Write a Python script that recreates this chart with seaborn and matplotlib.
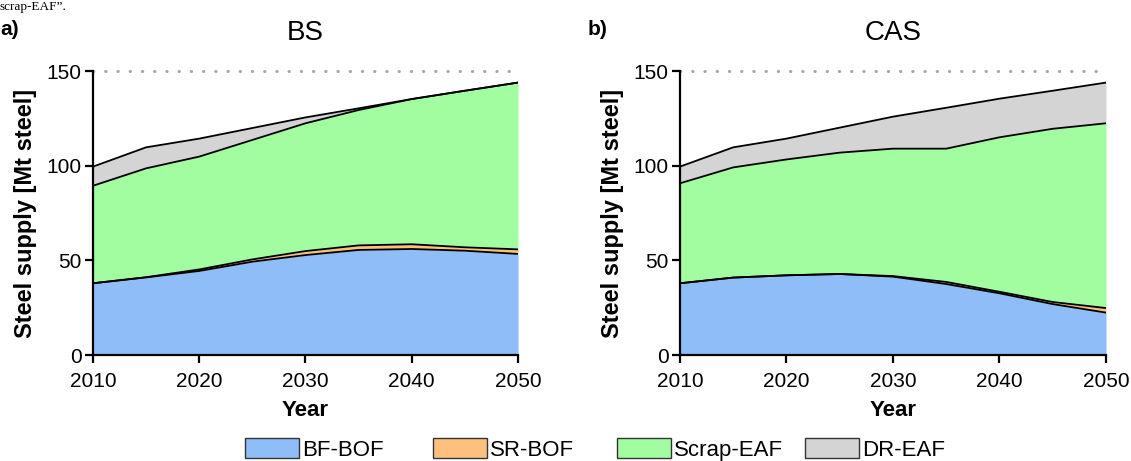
import matplotlib
matplotlib.use("Agg")
import matplotlib.pyplot as plt
from matplotlib.patches import Patch
import numpy as np
import pandas as pd
import seaborn as sns

# ---- data (Mt steel) ----
years = [2010, 2015, 2020, 2025, 2030, 2035, 2040, 2045, 2050]
routes = ["BF-BOF", "SR-BOF", "Scrap-EAF", "DR-EAF"]
route_colors = ["#8fbdf8", "#fec07f", "#a2fda1", "#d4d4d4"]

bs_bf_bof = [37.9, 41.0, 44.4, 49.3, 52.8, 55.5, 56.0, 55.1, 53.4]
bs_sr_bof = [0.0, 0.1, 0.8, 1.2, 2.1, 2.4, 2.5, 1.8, 2.4]
bs_scrap_eaf = [51.5, 57.5, 59.6, 63.1, 67.5, 71.5, 76.7, 82.7, 88.1]
bs_dr_eaf = [10.1, 11.1, 9.5, 6.3, 3.1, 0.9, 0.0, 0.0, 0.0]

cas_bf_bof = [37.9, 40.9, 42.1, 42.8, 41.4, 37.5, 32.6, 26.9, 22.4]
cas_sr_bof = [0.0, 0.0, 0.0, 0.0, 0.3, 1.1, 0.8, 1.1, 2.4]
cas_scrap_eaf = [52.8, 58.2, 61.2, 64.1, 67.3, 70.4, 81.6, 91.5, 97.6]
cas_dr_eaf = [8.8, 10.6, 11.0, 13.2, 16.9, 21.6, 20.4, 20.1, 21.5]

scenarios = {
    "BS": [bs_bf_bof, bs_sr_bof, bs_scrap_eaf, bs_dr_eaf],
    "CAS": [cas_bf_bof, cas_sr_bof, cas_scrap_eaf, cas_dr_eaf],
}
panel_tags = ["a)", "b)"]
x_ticks = [2010, 2020, 2030, 2040, 2050]
y_ticks = [0, 50, 100, 150]
y_cap = 150

sns.set_style("ticks")
plt.rcParams["font.family"] = ["Liberation Sans", "DejaVu Sans"]
plt.rcParams["text.color"] = "black"
plt.rcParams["axes.labelcolor"] = "black"
plt.rcParams["xtick.color"] = "black"
plt.rcParams["ytick.color"] = "black"

W, H = 1131, 461
fig = plt.figure(figsize=(W / 100, H / 100), dpi=100)
axes = [
    fig.add_axes([0.0822, 0.2299, 0.3758, 0.616]),
    fig.add_axes([0.6012, 0.2299, 0.3767, 0.616]),
]

for ax, (name, series), tag in zip(axes, scenarios.items(), panel_tags):
    df = pd.DataFrame(dict(zip(routes, series)), index=years)
    cum = df.cumsum(axis=1)
    lower = np.zeros(len(years))
    for route, color in zip(routes, route_colors):
        upper = cum[route].to_numpy()
        ax.fill_between(years, lower, upper, facecolor=color, linewidth=0, zorder=1)
        lower = upper
    # stacked boundaries
    long = cum.reset_index(names="year").melt(id_vars="year", var_name="route",
                                               value_name="top")
    sns.lineplot(data=long, x="year", y="top", units="route", estimator=None,
                 color="black", linewidth=1.3, ax=ax, zorder=2, legend=False)

    ax.axhline(y_cap, color="#a6a6a6", linewidth=2.2, linestyle=(0, (0.1, 3.9)),
               dash_capstyle="round", zorder=0, clip_on=False)

    ax.set_xlim(2010, 2050)
    ax.set_ylim(0, 150)
    ax.set_xticks(x_ticks)
    ax.set_yticks(y_ticks)
    ax.tick_params(axis="both", direction="out", length=6, width=1.6,
                   labelsize=15, color="black")
    ax.tick_params(axis="x", pad=6)
    ax.tick_params(axis="y", pad=2)
    for side in ("top", "right"):
        ax.spines[side].set_visible(False)
    for side in ("left", "bottom"):
        ax.spines[side].set_linewidth(1.6)
        ax.spines[side].set_color("black")
        ax.spines[side].set_zorder(5)
    ax.set_xlabel("Year", fontsize=16, fontweight="bold", labelpad=7)
    ax.set_ylabel("Steel supply [Mt steel]", fontsize=17, fontweight="bold",
                  labelpad=7)
    ax.set_title(name, fontsize=20, pad=22)
    bbox = ax.get_position()
    fig.text(bbox.x0 - 0.082, 1 - 35 / H, tag, fontsize=15, fontweight="bold",
             va="baseline", ha="left")

# tail of the running caption text above the panels
fig.text(0.0, 1 - 1 / H, "scrap-EAF\u201d.", fontsize=9.5,
         family=["Liberation Serif", "DejaVu Serif"], va="top", ha="left")

# legend: one fixed-width slot per route along the bottom edge
slot_left_px = [245, 433, 617, 805]
for route, color, x_px in zip(routes, route_colors, slot_left_px):
    handle = Patch(facecolor=color, edgecolor="#333333", linewidth=1.0)
    fig.legend([handle], [route], loc="upper left",
               bbox_to_anchor=(x_px / W, 1 - 438 / H), frameon=False,
               fontsize=16, handlelength=2.43, handleheight=1.0,
               handletextpad=0.15, borderpad=0, borderaxespad=0)

fig.savefig("out.png", dpi=100)
